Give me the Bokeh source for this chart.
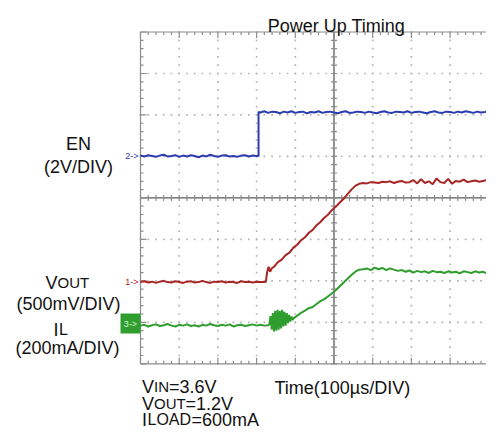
from bokeh.plotting import figure
from bokeh.models import Range1d
from bokeh.core.properties import value
from bokeh.embed import file_html
from bokeh.resources import INLINE

# ---------------- data (time in us, level in scope divisions) ----------------
US_PER_DIV = 100
N_DIV_X = 10
N_DIV_Y = 8

# EN (channel 2)
EN_LOW_T0, EN_DT = 0, 10
EN_LOW = [1.02, 1.00, 1.03, 1.01, 0.99, 1.02, 1.04, 1.00, 1.01, 1.03, 0.99,
          1.02, 1.00, 1.03, 1.01, 0.98, 1.02, 1.00, 1.04, 1.01, 0.99, 1.02,
          1.03, 1.00, 1.01, 0.99, 1.02, 1.03, 1.00, 1.02, 1.01]
EN_STEP_T = 305
EN_STEP_V = [1.01, 2.07]
EN_HIGH_T0 = 310
EN_HIGH = [2.06, 2.09, 2.05, 2.08, 2.07, 2.04, 2.08, 2.06, 2.09, 2.05, 2.07,
           2.08, 2.04, 2.07, 2.06, 2.09, 2.05, 2.07, 2.08, 2.06, 2.04, 2.07,
           2.09, 2.05, 2.06, 2.08, 2.07, 2.05, 2.08, 2.06, 2.04, 2.07, 2.09,
           2.06, 2.05, 2.08, 2.07, 2.06, 2.09, 2.05, 2.07, 2.08, 2.06, 2.04,
           2.07, 2.09, 2.06, 2.05, 2.08, 2.07, 2.05, 2.08, 2.06, 2.09, 2.07,
           2.05, 2.08, 2.06, 2.07, 2.09, 2.05, 2.07, 2.08, 2.06]

# VOUT (channel 1)
VO_LOW_T0, VO_DT = 0, 10
VO_LOW = [-2.03, -2.01, -2.04, -2.02, -2.05, -2.02, -2.00, -2.03, -2.04, -2.01,
          -2.03, -2.05, -2.02, -2.01, -2.04, -2.03, -2.00, -2.03, -2.05, -2.02,
          -2.03, -2.01, -2.04, -2.02, -2.03, -2.05, -2.01, -2.03, -2.02, -2.04,
          -2.02, -2.03, -2.03]
VO_JUMP_T = [324, 327, 331, 335, 339]
VO_JUMP_V = [-2.02, -1.80, -1.66, -1.78, -1.70]
VO_RISE_T0 = 345
VO_RISE = [-1.66, -1.55, -1.49, -1.38, -1.32, -1.20, -1.13, -1.02, -0.95, -0.84,
           -0.77, -0.66, -0.58, -0.48, -0.40, -0.29, -0.21, -0.11, -0.02, 0.09,
           0.20, 0.29, 0.34, 0.36,
           0.35, 0.38, 0.37, 0.36, 0.39, 0.38, 0.40, 0.36, 0.39, 0.41, 0.37,
           0.38, 0.43, 0.35, 0.45, 0.36, 0.40, 0.33, 0.47, 0.38, 0.36, 0.46,
           0.34, 0.41, 0.39, 0.44, 0.38, 0.40, 0.42, 0.39, 0.41, 0.43, 0.40,
           0.42, 0.41, 0.43]

# IL (channel 3)
IL_LOW_T0, IL_DT = 0, 10
IL_LOW = [-3.08, -3.06, -3.10, -3.07, -3.05, -3.09, -3.07, -3.04, -3.08, -3.10,
          -3.06, -3.08, -3.05, -3.09, -3.07, -3.10, -3.06, -3.08, -3.04, -3.07,
          -3.09, -3.06, -3.08, -3.05, -3.10, -3.07, -3.06, -3.09, -3.07, -3.05,
          -3.08, -3.06, -3.08, -3.07]
IL_OSC_T0, IL_OSC_DT = 333, 3
IL_OSC = [-3.05, -2.85, -3.18, -2.78, -3.22, -2.72, -3.20, -2.70, -3.18, -2.72,
          -3.15, -2.70, -3.10, -2.75, -3.08, -2.78, -3.02, -2.82, -2.98, -2.86,
          -2.94, -2.90]
IL_RISE_T0 = 405
IL_RISE = [-2.84, -2.77, -2.72, -2.66, -2.63, -2.56, -2.49, -2.44, -2.37, -2.30,
           -2.22, -2.13, -2.04, -1.95, -1.86, -1.78, -1.73, -1.72,
           -1.70, -1.74, -1.68, -1.72, -1.69, -1.74, -1.70, -1.73, -1.76, -1.74,
           -1.78, -1.75, -1.80, -1.76, -1.79, -1.77, -1.81, -1.76, -1.79, -1.78,
           -1.81, -1.77, -1.80, -1.78, -1.82, -1.77, -1.79, -1.81, -1.77, -1.80,
           -1.78, -1.82, -1.77, -1.79, -1.76, -1.78]

TITLE = "Power Up Timing"
TIME_LABEL = "Time(100\u00b5s/DIV)"

# ---------------- layout ----------------
W, H = 486, 429
X0_REF, XPX = 140.0, 38.7      # scope left edge, px per division
Y0_REF, YPX = 197.4, 41.47     # scope centre line, px per division

def tx(xr):
    return (xr - X0_REF) / XPX * US_PER_DIV

def vy(yr):
    return (Y0_REF - yr) / YPX

def dx(px):
    return px / XPX * US_PER_DIV

def dy(px):
    return px / YPX

def seq(t0, dt, vals):
    return [t0 + i * dt for i in range(len(vals))], list(vals)

EN_T, EN_V = [], []
for ts, vs in [seq(EN_LOW_T0, EN_DT, EN_LOW), ([EN_STEP_T] * 2, EN_STEP_V),
               seq(EN_HIGH_T0, EN_DT, EN_HIGH)]:
    EN_T += ts; EN_V += vs
VO_T, VO_V = [], []
for ts, vs in [seq(VO_LOW_T0, VO_DT, VO_LOW), (VO_JUMP_T, VO_JUMP_V),
               seq(VO_RISE_T0, VO_DT, VO_RISE)]:
    VO_T += ts; VO_V += vs
IL_T, IL_V = [], []
for ts, vs in [seq(IL_LOW_T0, IL_DT, IL_LOW), seq(IL_OSC_T0, IL_OSC_DT, IL_OSC),
               seq(IL_RISE_T0, IL_DT, IL_RISE)]:
    IL_T += ts; IL_V += vs

p = figure(width=W, height=H, output_backend="svg", toolbar_location=None,
           x_range=Range1d(tx(0), tx(W)),
           y_range=Range1d(vy(H), vy(0)),
           x_axis_location=None, y_axis_location=None, min_border=0)
p.grid.visible = False
p.outline_line_color = None
p.background_fill_color = "white"

GRID_C = "#8c8c8c"
DOT_C = "#b4b4b4"
CENTER_C = "#5a5a5a"
X_MAX = N_DIV_X * US_PER_DIV
Y_HALF = N_DIV_Y / 2
X_MID = X_MAX / 2

# dotted interior grid
dot_x, dot_y = [], []
for i in range(1, N_DIV_X):
    if i * 2 == N_DIV_X:
        continue
    for k in range(N_DIV_Y * 5 + 1):
        dot_x.append(i * US_PER_DIV); dot_y.append(-Y_HALF + 0.2 * k)
for j in range(1, N_DIV_Y):
    v = -Y_HALF + j
    if v == 0:
        continue
    for k in range(N_DIV_X * 5 + 1):
        dot_x.append(k * US_PER_DIV / 5); dot_y.append(v)
p.scatter(dot_x, dot_y, marker="square", size=1.7, fill_color=DOT_C, line_color=None)

# border lines
p.segment(x0=[0, 0, 0], y0=[-Y_HALF, Y_HALF, -Y_HALF], x1=[0, X_MAX, X_MAX],
          y1=[Y_HALF, Y_HALF, -Y_HALF], line_color=GRID_C, line_width=1.2)
# centre lines
p.segment(x0=[X_MID, 0], y0=[-Y_HALF, 0], x1=[X_MID, X_MAX], y1=[Y_HALF, 0],
          line_color=CENTER_C, line_width=1.3)

# ticks
tx0, ty0, tx1, ty1 = [], [], [], []
for k in range(N_DIV_Y * 5 + 1):
    v = -Y_HALF + 0.2 * k
    ln = 6 if k % 5 == 0 else 3
    tx0.append(0); tx1.append(dx(ln)); ty0.append(v); ty1.append(v)
    tx0.append(X_MID - dx(3)); tx1.append(X_MID + dx(3)); ty0.append(v); ty1.append(v)
for k in range(N_DIV_X * 5 + 1):
    t = k * US_PER_DIV / 5
    ln = 6 if k % 5 == 0 else 3
    tx0 += [t, t, t]; tx1 += [t, t, t]
    ty0 += [Y_HALF, -Y_HALF, -dy(3)]
    ty1 += [Y_HALF - dy(ln), -Y_HALF + dy(ln), dy(3)]
p.segment(x0=tx0, y0=ty0, x1=tx1, y1=ty1, line_color=GRID_C, line_width=1.2)

BLUE, RED, GREEN = "#2b3cae", "#a82626", "#2f9e2f"
p.line(EN_T, EN_V, line_color=BLUE, line_width=2)
p.line(VO_T, VO_V, line_color=RED, line_width=2)
p.line(IL_T, IL_V, line_color=GREEN, line_width=2)

# channel markers
FONT = value("Liberation Sans")
p.text(x=[tx(138)], y=[EN_LOW[0]], text=["2->"], text_font=FONT, text_font_size="9px",
       text_color=BLUE, text_align="right", text_baseline="middle")
p.text(x=[tx(138)], y=[VO_LOW[0]], text=["1->"], text_font=FONT, text_font_size="9px",
       text_color=RED, text_align="right", text_baseline="middle")
p.quad(left=[tx(120)], right=[tx(140)], top=[vy(313)], bottom=[vy(333)],
       fill_color=GREEN, line_color=None)
p.text(x=[tx(130)], y=[vy(323)], text=["3->"], text_font=FONT, text_font_size="9px",
       text_color="#d8f5d8", text_align="center", text_baseline="middle")

# texts: (text, x_ref, baseline_ref, size, align)
TEXTS = [
    (TITLE, 336, 25, 18, "center"),
    ("EN", 78, 143, 18, "center"),
    ("(2V/DIV)", 78, 166, 18, "center"),
    ("V", 45, 282, 18, "left"), ("OUT", 57, 282, 15, "left"),
    ("(500mV/DIV)", 68, 303, 18, "center"),
    ("I", 53, 329, 18, "left"), ("L", 58.5, 329, 16, "left"),
    ("(200mA/DIV)", 67, 347, 18, "center"),
    ("V", 141.5, 386, 18, "left"), ("IN", 153.5, 386, 15, "left"),
    ("=3.6V", 168.5, 386, 18, "left"),
    ("V", 141.5, 403, 18, "left"), ("OUT", 153.5, 403, 15, "left"),
    ("=1.2V", 185, 403, 18, "left"),
    ("I", 141.5, 419, 18, "left"), ("LOAD", 147, 419, 16, "left"),
    ("=600mA", 191, 419, 18, "left"),
    (TIME_LABEL, 274, 387, 18, "left"),
]
for txt, xr, yr, sz, al in TEXTS:
    p.text(x=[tx(xr)], y=[vy(yr)], text=[txt], text_font=FONT,
           text_font_size=f"{sz}px", text_color="#111111",
           text_align=al, text_baseline="alphabetic")

open("out.html", "w").write(file_html(p, INLINE))
